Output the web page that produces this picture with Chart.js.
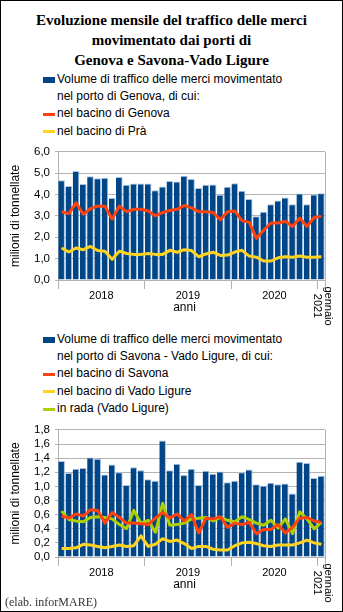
<!DOCTYPE html>
<html>
<head>
<meta charset="utf-8">
<script src="https://cdn.jsdelivr.net/npm/chart.js@4.4.1/dist/chart.umd.min.js"></script>
<style>
    body { margin: 0; background: #fff; }
    #page { position: relative; width: 343px; height: 612px; background: #fff; overflow: hidden;
            font-family: "Liberation Sans", Arial, sans-serif; }
    #frame { position: absolute; left: 0; top: 0; width: 343px; height: 612px; box-sizing: border-box;
             border: 1px solid #000; pointer-events: none; }
    .title { position: absolute; left: 0; top: 10px; width: 343px; text-align: center;
             font: bold 15px/20px "Liberation Serif", "Times New Roman", serif; color: #000; }
    .legend { position: absolute; left: 57px; font-size: 12px; line-height: 17.4px; color: #000; }
    .legend .item { position: relative; white-space: nowrap; }
    .legend .sw { position: absolute; left: -14px; width: 12px; }
    canvas { position: absolute; left: 0; }
    .credit { position: absolute; left: 5px; top: 595px; font: 12px "Liberation Serif", serif; color: #333; }
</style>
</head>
<body>
<div id="page">
    <div class="title">Evoluzione mensile del traffico delle merci<br>movimentato dai porti di<br>Genova e Savona-Vado Ligure</div>
    <div class="legend" id="legend1" style="top:70.6px"></div>
    <div class="legend" id="legend2" style="top:330.6px"></div>
    <canvas id="chart1" width="343" height="210" style="top:140px"></canvas>
    <canvas id="chart2" width="343" height="194" style="top:418px"></canvas>
    <div class="credit">(elab. inforMARE)</div>
    <div id="frame"></div>
</div>
<script>
// months gen 2018 - gen 2021
const months = [
    "gen 18", "feb 18", "mar 18", "apr 18", "mag 18", "giu 18", "lug 18", "ago 18", "set 18", "ott 18", "nov 18", "dic 18",
    "gen 19", "feb 19", "mar 19", "apr 19", "mag 19", "giu 19", "lug 19", "ago 19", "set 19", "ott 19", "nov 19", "dic 19",
    "gen 20", "feb 20", "mar 20", "apr 20", "mag 20", "giu 20", "lug 20", "ago 20", "set 20", "ott 20", "nov 20", "dic 20",
    "gen 21"
];
const yearLabels = ["2018", "2019", "2020"];
const lastLabel = ["gennaio", "2021"];
const axisTitle = "anni";
const yTitle = "milioni di tonnellate";

// Genova (milioni di tonnellate)
const genovaTotale = [
    4.67, 4.40, 5.11, 4.50, 4.86, 4.77, 4.79, 3.84, 4.82, 4.46, 4.52, 4.52,
    4.52, 4.20, 4.38, 4.64, 4.61, 4.88, 4.73, 4.31, 4.46, 4.47, 3.99, 4.37,
    4.53, 4.18, 3.79, 2.99, 3.20, 3.55, 3.72, 3.87, 3.55, 4.05, 3.55, 4.00,
    4.06
];
const bacinoGenova = [
    3.20, 3.11, 3.61, 3.08, 3.34, 3.46, 3.46, 2.86, 3.46, 3.20, 3.31, 3.31,
    3.23, 3.01, 3.16, 3.26, 3.31, 3.49, 3.38, 3.20, 3.20, 3.16, 2.83, 3.20,
    3.23, 2.78, 2.70, 1.95, 2.33, 2.67, 2.67, 2.75, 2.51, 2.90, 2.51, 2.93,
    2.98
];
const bacinoPra = [
    1.50, 1.31, 1.50, 1.42, 1.57, 1.38, 1.35, 0.97, 1.35, 1.24, 1.20, 1.20,
    1.24, 1.20, 1.20, 1.39, 1.30, 1.42, 1.38, 1.09, 1.22, 1.30, 1.15, 1.17,
    1.31, 1.39, 1.12, 1.07, 0.89, 0.89, 1.04, 1.09, 1.07, 1.12, 1.07, 1.07,
    1.09
];

// Savona - Vado Ligure
const savonaTotale = [
    1.36, 1.19, 1.25, 1.26, 1.41, 1.39, 1.17, 1.31, 1.20, 1.02, 1.27, 1.23,
    1.10, 1.08, 1.65, 1.23, 1.32, 1.16, 1.25, 1.02, 1.22, 1.18, 1.21, 1.06,
    1.08, 1.20, 1.24, 1.03, 1.01, 1.05, 1.03, 1.04, 0.90, 1.35, 1.33, 1.12,
    1.15
];
const bacinoSavona = [
    0.58, 0.55, 0.61, 0.58, 0.67, 0.66, 0.48, 0.63, 0.56, 0.48, 0.48, 0.47,
    0.46, 0.55, 0.63, 0.55, 0.61, 0.51, 0.60, 0.34, 0.55, 0.54, 0.57, 0.42,
    0.48, 0.46, 0.49, 0.33, 0.39, 0.39, 0.46, 0.34, 0.42, 0.55, 0.56, 0.51,
    0.49
];
const bacinoVado = [
    0.12, 0.12, 0.13, 0.18, 0.17, 0.15, 0.13, 0.15, 0.17, 0.15, 0.16, 0.30,
    0.15, 0.18, 0.26, 0.22, 0.24, 0.19, 0.12, 0.15, 0.15, 0.11, 0.10, 0.10,
    0.16, 0.20, 0.21, 0.19, 0.16, 0.15, 0.17, 0.17, 0.17, 0.20, 0.24, 0.20,
    0.18
];
const inRada = [
    0.65, 0.53, 0.51, 0.50, 0.56, 0.57, 0.56, 0.54, 0.46, 0.40, 0.66, 0.48,
    0.52, 0.35, 0.76, 0.45, 0.46, 0.48, 0.54, 0.55, 0.56, 0.51, 0.56, 0.52,
    0.50, 0.57, 0.53, 0.48, 0.45, 0.52, 0.41, 0.54, 0.33, 0.64, 0.54, 0.40,
    0.49
];

const BLUE = "#004586";
const RED = "#ff420e";
const YELLOW = "#ffd320";
const GREEN = "#aecf00";
const GRID = "#b3b3b3";
const FONT = '"Liberation Sans", Arial, sans-serif';

Chart.defaults.font.family = FONT;
Chart.defaults.color = "#000";

// year labels, "anni" and the rotated "gennaio 2021" under the x axis
const xLabels = {
    id: "xLabels",
    afterDraw(chart) {
        const { ctx, chartArea, scales: { x } } = chart;
        const bottom = chartArea.bottom;
        ctx.save();
        ctx.fillStyle = "#000";
        ctx.textAlign = "center";
        ctx.textBaseline = "middle";
        ctx.font = "11px " + FONT;
        yearLabels.forEach((yr, k) => {
            const px = (x.getPixelForValue(k * 12 + 5) + x.getPixelForValue(k * 12 + 6)) / 2;
            ctx.fillText(yr, px, bottom + 16);
        });
        ctx.font = "12px " + FONT;
        ctx.fillText(axisTitle, (chartArea.left + chartArea.right) / 2 - 7, bottom + 28);

        // right border of the plot
        ctx.strokeStyle = GRID;
        ctx.lineWidth = 1;
        ctx.beginPath();
        ctx.moveTo(Math.round(chartArea.right) + 0.5, chartArea.top);
        ctx.lineTo(Math.round(chartArea.right) + 0.5, bottom);
        ctx.stroke();

        ctx.font = "11px " + FONT;
        ctx.translate(x.getPixelForValue(months.length - 1), bottom + 26);
        ctx.rotate(Math.PI / 2);
        ctx.fillText(lastLabel[0], 0, -6.5);
        ctx.fillText(lastLabel[1], 0, 4);
        ctx.restore();
    }
};

function makeChart(id, bars, lines, yMax, yStep, xHeight) {
    const datasets = [{
        type: "bar",
        label: bars.label,
        data: bars.data,
        backgroundColor: BLUE,
        borderColor: "#a5c3e3",
        borderWidth: { top: 1, right: 1, bottom: 0, left: 0 },
        barPercentage: 0.92,
        categoryPercentage: 1,
        order: 2
    }];
    lines.forEach(l => {
        datasets.push({
            type: "line",
            label: l.label,
            data: l.data,
            borderColor: l.color,
            borderWidth: 3,
            pointRadius: 0,
            tension: 0,
            borderJoinStyle: "round",
            order: 1
        });
    });

    return new Chart(document.getElementById(id), {
        data: { labels: months, datasets },
        options: {
            responsive: false,
            animation: false,
            layout: { padding: { top: 7, right: 18, left: 0, bottom: 0 } },
            plugins: { legend: { display: false }, tooltip: { enabled: false } },
            scales: {
                x: {
                    offset: true,
                    ticks: { display: false, autoSkip: false },
                    grid: {
                        offset: true,
                        drawOnChartArea: false,
                        tickLength: 9,
                        color: c => (c.index === undefined || c.index % 12 === 0) ? GRID : "rgba(0,0,0,0)"
                    },
                    border: { color: GRID },
                    afterFit: s => { s.height = xHeight; }
                },
                y: {
                    min: 0,
                    max: yMax,
                    ticks: {
                        stepSize: yStep,
                        autoSkip: false,
                        padding: 5,
                        font: { size: 11.5 },
                        callback: v => v.toFixed(1).replace(".", ",")
                    },
                    grid: { color: GRID, tickLength: 3 },
                    border: { color: GRID },
                    title: {
                        display: true,
                        text: yTitle,
                        font: { size: 12 },
                        padding: { top: 8, bottom: 0 }
                    },
                    afterFit: s => { s.width = 58; }
                }
            }
        },
        plugins: [xLabels]
    });
}

function makeLegend(id, bars, lines) {
    const box = document.getElementById(id);
    const first = document.createElement("div");
    first.className = "item";
    first.innerHTML = '<span class="sw" style="top:6px;height:6px;background:' + BLUE + '"></span>' +
        bars.label.join("<br>");
    box.appendChild(first);
    lines.forEach(l => {
        const row = document.createElement("div");
        row.className = "item";
        row.innerHTML = '<span class="sw" style="top:7.5px;height:3px;background:' + l.color + '"></span>' + l.label;
        box.appendChild(row);
    });
}

const genovaBars = {
    label: ["Volume di traffico delle merci movimentato", "nel porto di Genova, di cui:"],
    data: genovaTotale
};
const genovaLines = [
    { label: "nel bacino di Genova", data: bacinoGenova, color: RED },
    { label: "nel bacino di Prà", data: bacinoPra, color: YELLOW }
];
const savonaBars = {
    label: ["Volume di traffico delle merci movimentato", "nel porto di Savona - Vado Ligure, di cui:"],
    data: savonaTotale
};
const savonaLines = [
    { label: "nel bacino di Savona", data: bacinoSavona, color: RED },
    { label: "nel bacino di Vado Ligure", data: bacinoVado, color: YELLOW },
    { label: "in rada (Vado Ligure)", data: inRada, color: GREEN }
];

makeLegend("legend1", genovaBars, genovaLines);
makeLegend("legend2", savonaBars, savonaLines);
makeChart("chart1", genovaBars, genovaLines, 6, 1, 70);
makeChart("chart2", savonaBars, savonaLines, 1.8, 0.2, 55);
</script>
</body>
</html>
